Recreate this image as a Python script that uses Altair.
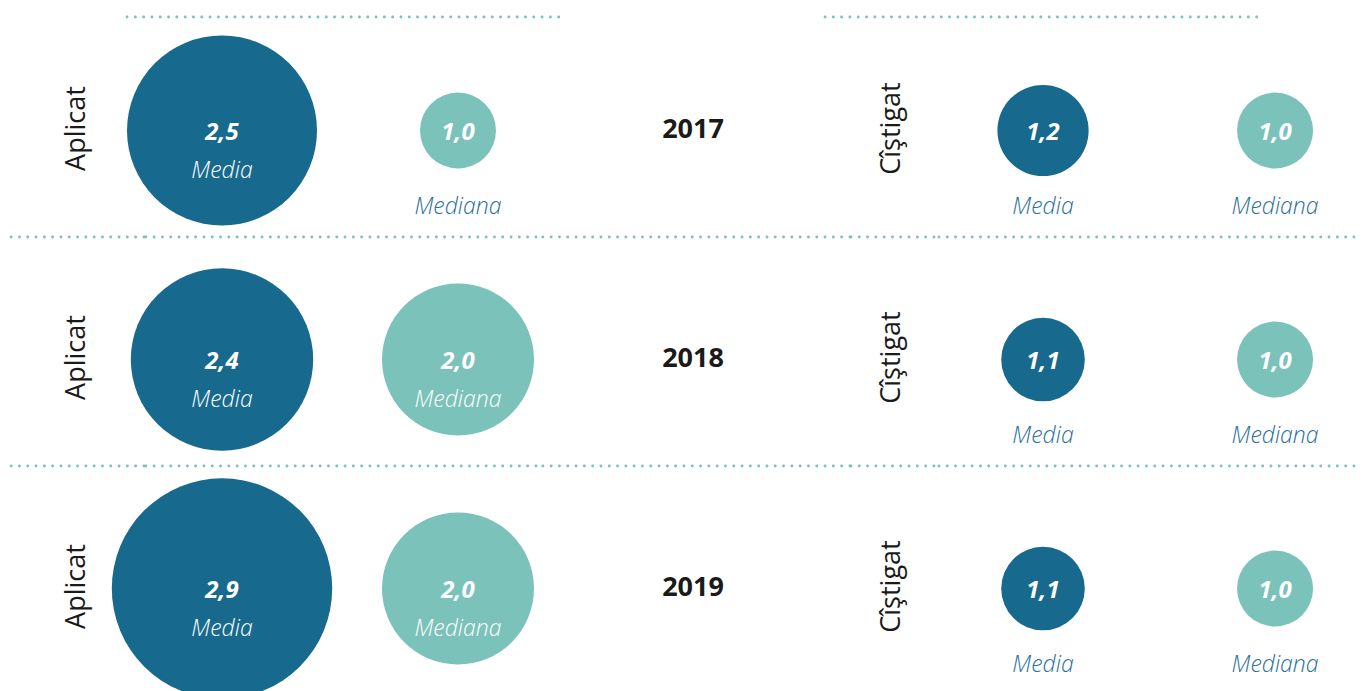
import altair as alt
import pandas as pd

# ---- data ----
years = ["2017", "2018", "2019"]
stats = ["Media", "Mediana"]
aplicat_media = [2.5, 2.4, 2.9]
aplicat_mediana = [1.0, 2.0, 2.0]
castigat_media = [1.2, 1.1, 1.1]
castigat_mediana = [1.0, 1.0, 1.0]
group_labels = ["Aplicat", "Cîştigat"]

# ---- styles ----
DARK = "#17698d"
TEAL = "#7bc2ba"
LABEL_BLUE = "#2b6f9c"
INK = "#1a1a1a"
FONT = "Open Sans"
ROW_STEP = 229
H = ROW_STEP * 3

y_scale = alt.Scale(type="band", domain=years, paddingInner=0, paddingOuter=0)


def Y(band=0.5):
    return alt.Y("year:N", scale=y_scale, axis=None, bandPosition=band)


DOT = dict(stroke=TEAL, strokeWidth=2.8, strokeDash=[0.1, 8.2], strokeCap="round")
rows_df = pd.DataFrame({"year": years})


def long_df(media, mediana):
    rows = []
    for y, a, b in zip(years, media, mediana):
        rows.append({"year": y, "stat": "Media", "value": a})
        rows.append({"year": y, "stat": "Mediana", "value": b})
    return pd.DataFrame(rows)


def separators():
    return (
        alt.Chart(rows_df)
        .transform_filter("datum.year != '2017'")
        .mark_rule(**DOT)
        .encode(y=Y(0))
    )


def circle_panel(media, mediana, width, pad, align, line_x, line_x2):
    df = long_df(media, mediana)
    xs = alt.X(
        "stat:N",
        scale=alt.Scale(type="point", domain=stats, padding=pad, align=align),
        axis=None,
    )
    base = (
        alt.Chart(df)
        .transform_calculate(label="replace(format(datum.value, '.1f'), '.', ',')")
        .encode(x=xs)
    )
    circles = base.mark_circle(opacity=1).encode(
        y=Y(0.535),
        size=alt.Size(
            "value:Q",
            scale=alt.Scale(type="pow", exponent=2, domain=[0, 3], range=[0, 51984]),
            legend=None,
        ),
        color=alt.Color("stat:N", scale=alt.Scale(domain=stats, range=[DARK, TEAL]), legend=None),
    )
    values = base.mark_text(
        font=FONT, fontSize=24, fontStyle="italic", fontWeight="bold", color="white", dy=10
    ).encode(y=Y(), text="label:N")
    inside = (
        base.transform_filter("datum.value >= 2")
        .mark_text(font=FONT, fontSize=23, fontStyle="italic", fontWeight=300, color="white", dy=48)
        .encode(y=Y(), text="stat:N")
    )
    below = (
        base.transform_filter("datum.value < 2")
        .mark_text(font=FONT, fontSize=23, fontStyle="italic", fontWeight=300, color=LABEL_BLUE, dy=84)
        .encode(y=Y(), text="stat:N")
    )
    top = (
        alt.Chart(rows_df)
        .transform_filter("datum.year == '2017'")
        .mark_rule(**DOT)
        .encode(y=Y(9 / ROW_STEP), x=alt.value(line_x), x2=alt.value(line_x2))
    )
    return alt.layer(circles, values, inside, below, separators(), top).properties(
        width=width, height=H
    )


def label_panel(name, width, dx):
    df = pd.DataFrame({"year": years, "name": [name] * len(years)})
    txt = alt.Chart(df).mark_text(
        font=FONT, fontSize=27, angle=270, color=INK, dx=dx
    ).encode(y=Y(), text="name:N")
    return alt.layer(txt, separators()).properties(width=width, height=H)


def year_panel(width):
    txt = alt.Chart(rows_df).mark_text(
        font=FONT, fontSize=27, fontWeight="bold", color=INK, dy=7
    ).encode(y=Y(), text="year:N")
    return alt.layer(txt, separators()).properties(width=width, height=H)


p1 = label_panel(group_labels[0], 134, -6)
p2 = circle_panel(aplicat_media, aplicat_mediana, 392, 0.3305, 0.5, -17, 415)
p3 = year_panel(314)
p4 = label_panel(group_labels[1], 84, -6)
p5 = circle_panel(castigat_media, castigat_mediana, 420, 0.405, 0.58, -109, 325)

chart = (
    alt.hconcat(p1, p2, p3, p4, p5, spacing=0, bounds="flush")
    .properties(padding=0)
    .configure_view(stroke=None)
)

chart.save("out.html", embed_options={"renderer": "svg", "actions": False})
